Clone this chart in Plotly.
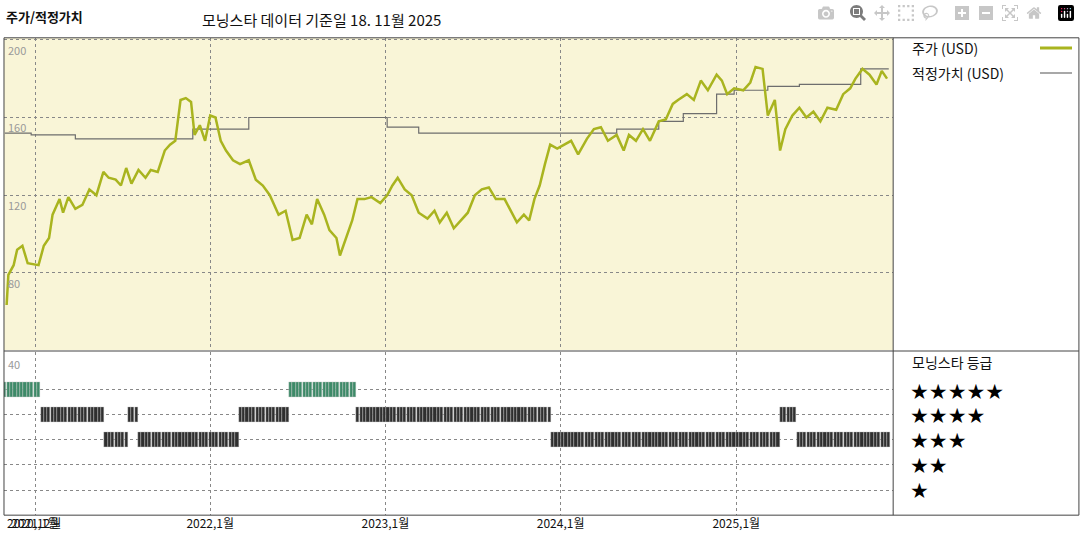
import plotly.graph_objects as go
from datetime import datetime, timedelta

def yd(y):
    yr = int(y // 1)
    start = datetime(yr, 1, 1)
    return start + timedelta(days=(y - yr) * 365.25)

price_years = [2020.84,2020.85,2020.88,2020.90,2020.93,2020.96,2021.02,2021.05,2021.08,2021.10,2021.14,2021.16,2021.19,2021.23,2021.27,2021.31,2021.35,2021.39,2021.42,2021.46,2021.49,2021.52,2021.55,2021.59,2021.63,2021.66,2021.70,2021.74,2021.77,2021.80,2021.83,2021.86,2021.89,2021.91,2021.94,2021.97,2022.00,2022.03,2022.06,2022.09,2022.13,2022.17,2022.22,2022.26,2022.30,2022.34,2022.39,2022.43,2022.47,2022.51,2022.55,2022.58,2022.61,2022.65,2022.68,2022.72,2022.74,2022.78,2022.81,2022.84,2022.88,2022.92,2022.97,2023.01,2023.04,2023.07,2023.11,2023.15,2023.19,2023.24,2023.28,2023.31,2023.35,2023.39,2023.43,2023.47,2023.51,2023.55,2023.59,2023.63,2023.68,2023.72,2023.75,2023.79,2023.82,2023.85,2023.88,2023.91,2023.94,2023.98,2024.02,2024.06,2024.10,2024.15,2024.19,2024.23,2024.27,2024.32,2024.36,2024.39,2024.43,2024.47,2024.51,2024.56,2024.60,2024.64,2024.67,2024.72,2024.76,2024.80,2024.84,2024.89,2024.92,2024.95,2024.99,2025.04,2025.08,2025.11,2025.15,2025.18,2025.22,2025.25,2025.28,2025.32,2025.36,2025.40,2025.44,2025.48,2025.52,2025.57,2025.61,2025.65,2025.68,2025.72,2025.76,2025.80,2025.83,2025.86]
price_vals = [63.5,79,84,92,94,85,84,94,98,110,118,111,119,113,115,123,120,132,129,128,125,134,126,133,129,133,132,143,146,148,169,170,168,151,156,148,161,160,148,143,138,136,138,128,125,120,110,112,97,98,110,105,118,110,102,98,89,99,107,118,118,119,116,120,125,129,123,120,111,108,112,106,111,103,107,111,120,123,124,118,118,111,106,110,107,118,125,136,146,144,146,148,141,149,154,155,148,151,143,151,148,154,148,158,159,167,169,172,169,179,174,182,179,172,175,174,178,186,185,161,169,143,154,161,165,160,163,158,165,164,172,175,180,185,182,177,184,180]

fv_years = [2020.83,2020.98,2021.23,2021.90,2022.22,2023.01,2023.19,2024.32,2024.56,2024.70,2024.89,2024.99,2025.18,2025.36,2025.71,2025.87]
fv_vals = [152,151,149,154,160,155,152,154,158,162,172,174,176,177,185,185]

rating_starts = [2020.83,2021.04,2021.40,2021.53,2021.59,2022.17,2022.44,2022.84,2023.94,2025.25,2025.34]
rating_ends = [2021.04,2021.40,2021.53,2021.59,2022.17,2022.44,2022.84,2023.94,2025.25,2025.34,2025.88]
rating_stars = [5,4,3,4,3,4,5,4,3,4,3]

tick_years = [2020.83, 2021.0, 2022.0, 2023.0, 2024.0, 2025.0]
tick_text = ["2020,12월", "2021,1월", "2022,1월", "2023,1월", "2024,1월", "2025,1월"]

GREEN = "#a9b41f"
FONT = "Noto Sans CJK KR"

fig = go.Figure()
fig.add_trace(go.Scatter(x=[yd(v) for v in fv_years], y=fv_vals, mode="lines",
                         line=dict(color="#6e6e6e", width=1.2, shape="hv"), xaxis="x", yaxis="y"))
fig.add_trace(go.Scatter(x=[yd(v) for v in price_years], y=price_vals, mode="lines",
                         line=dict(color=GREEN, width=2.5), xaxis="x", yaxis="y"))

bx, bb, bc = [], [], []
w = 2020.83
while w < 2025.88:
    for s, e, st in zip(rating_starts, rating_ends, rating_stars):
        if s <= w < e:
            bx.append(yd(w)); bb.append(st - 0.3)
            bc.append("#3d8a68" if st == 5 else "#2f2f2f")
            break
    w += 7 / 365.25
fig.add_trace(go.Bar(x=bx, y=[0.6] * len(bx), base=bb, marker=dict(color=bc, line=dict(color="#cccccc", width=0.4)),
                     width=6.5 * 86400000, xaxis="x2", yaxis="y2"))

rng = [yd(2020.825), yd(2025.895)]
grid = dict(showgrid=True, gridcolor="#888", griddash="dot", gridwidth=1)
fig.update_layout(
    width=1080, height=540, margin=dict(l=0, r=0, t=0, b=0),
    paper_bgcolor="white", plot_bgcolor="white", showlegend=False, bargap=0,
    font=dict(family=FONT, color="#222"),
    xaxis=dict(domain=[0.0037, 0.827], range=rng, anchor="y", tickvals=[yd(v) for v in tick_years[1:]],
               showticklabels=False, ticks="", zeroline=False, **grid),
    yaxis=dict(domain=[0.352, 0.93], range=[40.4, 201], tickvals=[80, 120, 160, 200],
               showticklabels=False, zeroline=False, **grid),
    xaxis2=dict(domain=[0.0037, 0.827], range=rng, anchor="y2", tickvals=[yd(v) for v in tick_years[1:]],
                ticktext=tick_text[1:], ticks="", tickfont=dict(size=12, color="#111"), zeroline=False, **grid),
    yaxis2=dict(domain=[0.046, 0.348], range=[-0.0, 6.5], tickvals=[1, 2, 3, 4, 5],
                showticklabels=False, zeroline=False, **grid),
)
fig.add_shape(type="rect", xref="x", yref="y", x0=rng[0], x1=rng[1], y0=40.4, y1=201,
              fillcolor="#f9f5d7", line=dict(width=0), layer="below")
ln = dict(color="#444", width=1)
fig.add_shape(type="rect", xref="paper", yref="paper", x0=0.0037, y0=0.046, x1=0.999, y1=0.93, line=ln)
fig.add_shape(type="line", xref="paper", yref="paper", x0=0.827, x1=0.827, y0=0.046, y1=0.93, line=ln)
fig.add_shape(type="line", xref="paper", yref="paper", x0=0.0037, x1=0.999, y0=0.35, y1=0.35, line=ln)

fig.add_annotation(xref="x2", yref="paper", x=yd(tick_years[0]), y=1 - 522 / 540, text=tick_text[0],
                   showarrow=False, xanchor="left", yanchor="middle", font=dict(size=12, color="#111"))

for v in [200, 160, 120, 80]:
    fig.add_annotation(xref="paper", yref="y", x=0.006, y=v, text=str(v), showarrow=False,
                       xanchor="left", yanchor="top", font=dict(size=11, color="#999"))
fig.add_annotation(xref="paper", yref="paper", x=0.006, y=0.345, text="40", showarrow=False,
                   xanchor="left", yanchor="top", font=dict(size=11, color="#999"))

fig.add_annotation(xref="paper", yref="paper", x=0.004, y=1 - 17 / 540, text="<b>주가/적정가치</b>", showarrow=False,
                   xanchor="left", yanchor="middle", font=dict(size=13, color="#111"))
fig.add_annotation(xref="paper", yref="paper", x=0.185, y=1 - 20 / 540, text="모닝스타 데이터 기준일 18. 11월 2025",
                   showarrow=False, xanchor="left", yanchor="middle", font=dict(size=15, color="#111"))

fig.add_annotation(xref="paper", yref="paper", x=0.843, y=1 - 48 / 540, text="주가 (USD)", showarrow=False,
                   xanchor="left", yanchor="middle", font=dict(size=14, color="#111"))
fig.add_shape(type="line", xref="paper", yref="paper", x0=1040 / 1080, x1=1072 / 1080,
              y0=1 - 48 / 540, y1=1 - 48 / 540, line=dict(color=GREEN, width=3))
fig.add_annotation(xref="paper", yref="paper", x=0.843, y=1 - 73 / 540, text="적정가치 (USD)", showarrow=False,
                   xanchor="left", yanchor="middle", font=dict(size=14, color="#111"))
fig.add_shape(type="line", xref="paper", yref="paper", x0=1040 / 1080, x1=1072 / 1080,
              y0=1 - 73 / 540, y1=1 - 73 / 540, line=dict(color="#6e6e6e", width=1.2))
fig.add_annotation(xref="paper", yref="paper", x=0.843, y=1 - 362 / 540, text="모닝스타 등급", showarrow=False,
                   xanchor="left", yanchor="middle", font=dict(size=14, color="#111"))
for n, ypx in zip([5, 4, 3, 2, 1], [392, 416, 441, 466, 491]):
    fig.add_annotation(xref="paper", yref="paper", x=0.841, y=1 - ypx / 540, text="★" * n, showarrow=False,
                       xanchor="left", yanchor="middle", font=dict(size=21, color="#000", family="DejaVu Sans"))

fig.write_html("out.html", post_script="document.body.style.margin='0';document.body.style.overflow='hidden';")
